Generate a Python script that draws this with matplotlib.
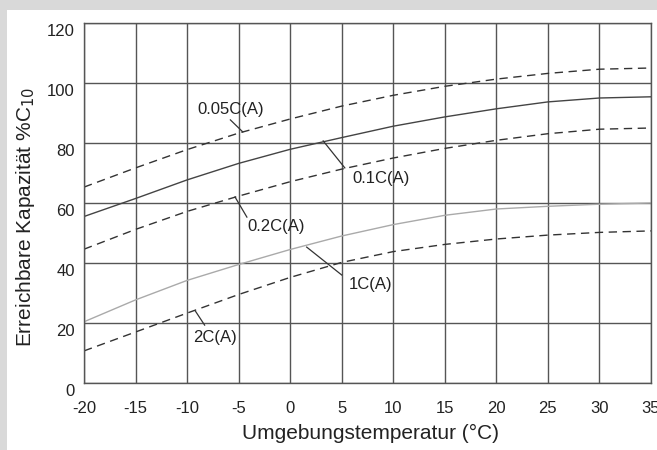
import numpy as np
import matplotlib
matplotlib.use('Agg')
import matplotlib.pyplot as plt
import matplotlib.patches as patches
import matplotlib.transforms as mtransforms

plt.rcParams['font.family'] = ['Liberation Sans', 'DejaVu Sans']
plt.rcParams['axes.unicode_minus'] = False

# temperatures (°C)
temp = [-20, -15, -10, -5, 0, 5, 10, 15, 20, 25, 30, 35]

# available capacity %C10 per discharge rate
cap_005 = [65.3, 71.7, 77.8, 83.3, 88.0, 92.3, 95.9, 98.9, 101.3, 103.2, 104.6, 105.0]
cap_01 = [55.5, 61.5, 67.7, 73.2, 77.9, 81.8, 85.6, 88.7, 91.4, 93.7, 95.0, 95.4]
cap_02 = [44.6, 51.2, 57.2, 62.3, 67.1, 71.3, 75.0, 78.2, 80.9, 83.1, 84.6, 85.0]
cap_1 = [20.4, 27.7, 34.2, 39.5, 44.5, 49.0, 52.8, 55.9, 58.0, 58.9, 59.6, 60.0]
cap_2 = [10.7, 17.0, 23.3, 29.5, 35.2, 40.2, 43.8, 46.2, 48.0, 49.3, 50.2, 50.7]

xticks = [-20, -15, -10, -5, 0, 5, 10, 15, 20, 25, 30, 35]
yticks = [0, 20, 40, 60, 80, 100, 120]

fig = plt.figure(figsize=(6.57, 4.5), dpi=100)
fig.patch.set_facecolor('#d9d9d9')
panel = patches.Rectangle((7 / 657, 0), 1 - 7 / 657, 440 / 450, transform=fig.transFigure,
                          fc='white', ec='none', zorder=-10)
fig.patches.append(panel)

ax = fig.add_axes([84 / 657, 67 / 450, 567 / 657, 360 / 450])
ax.set_facecolor('white')

dash = (0, (6, 4))
ax.plot(temp, cap_005, color='#333333', lw=1.0, linestyle=dash)
ax.plot(temp, cap_01, color='#444444', lw=1.0)
ax.plot(temp, cap_02, color='#333333', lw=1.0, linestyle=dash)
ax.plot(temp, cap_1, color='#aaaaaa', lw=1.0)
ax.plot(temp, cap_2, color='#333333', lw=1.0, linestyle=dash)

ax.set_xlim(-20, 35)
ax.set_ylim(0, 120)
ax.set_xticks(xticks)
ax.set_yticks(yticks)
ax.grid(True, color='#555555', lw=1.0)
ax.tick_params(length=0, labelsize=12, labelcolor='#222222')
ax.tick_params(axis='x', pad=13)
ax.tick_params(axis='y', pad=6.5)
# y tick labels sit a little below their grid lines in the reference
shift = mtransforms.ScaledTranslation(0, -7 / 100, fig.dpi_scale_trans)
for lab in ax.get_yticklabels():
    lab.set_transform(lab.get_transform() + shift)
for s in ax.spines.values():
    s.set_color('#555555')
    s.set_linewidth(1.0)

ax.set_xlabel('Umgebungstemperatur (°C)', fontsize=15, color='#222222')
ax.set_ylabel('Erreichbare Kapazität %C$_{10}$', fontsize=15, color='#222222')
ax.xaxis.set_label_coords(0.506, -0.115)
ax.yaxis.set_label_coords(-0.104, 0.4625)
ax.yaxis.label.set_va('center')

labels = ['0.05C(A)', '0.1C(A)', '0.2C(A)', '1C(A)', '2C(A)']
text_pos = [(-5.8, 91.3), (8.8, 68.3), (-1.4, 52.3), (7.8, 32.7), (-7.3, 15.3)]
lead_a = [(-5.8, 87.7), (3.2, 80.7), (-5.35, 62.0), (1.6, 45.3), (-9.2, 24.0)]
lead_b = [(-4.6, 83.7), (5.3, 71.7), (-4.2, 55.3), (5.0, 36.0), (-8.3, 19.3)]
for lab, tp, a, b in zip(labels, text_pos, lead_a, lead_b):
    ax.text(tp[0], tp[1], lab, fontsize=12, color='#222222', ha='center', va='center')
    ax.plot([a[0], b[0]], [a[1], b[1]], color='#333333', lw=0.9)

fig.savefig('out.png', dpi=100, facecolor=fig.get_facecolor())
